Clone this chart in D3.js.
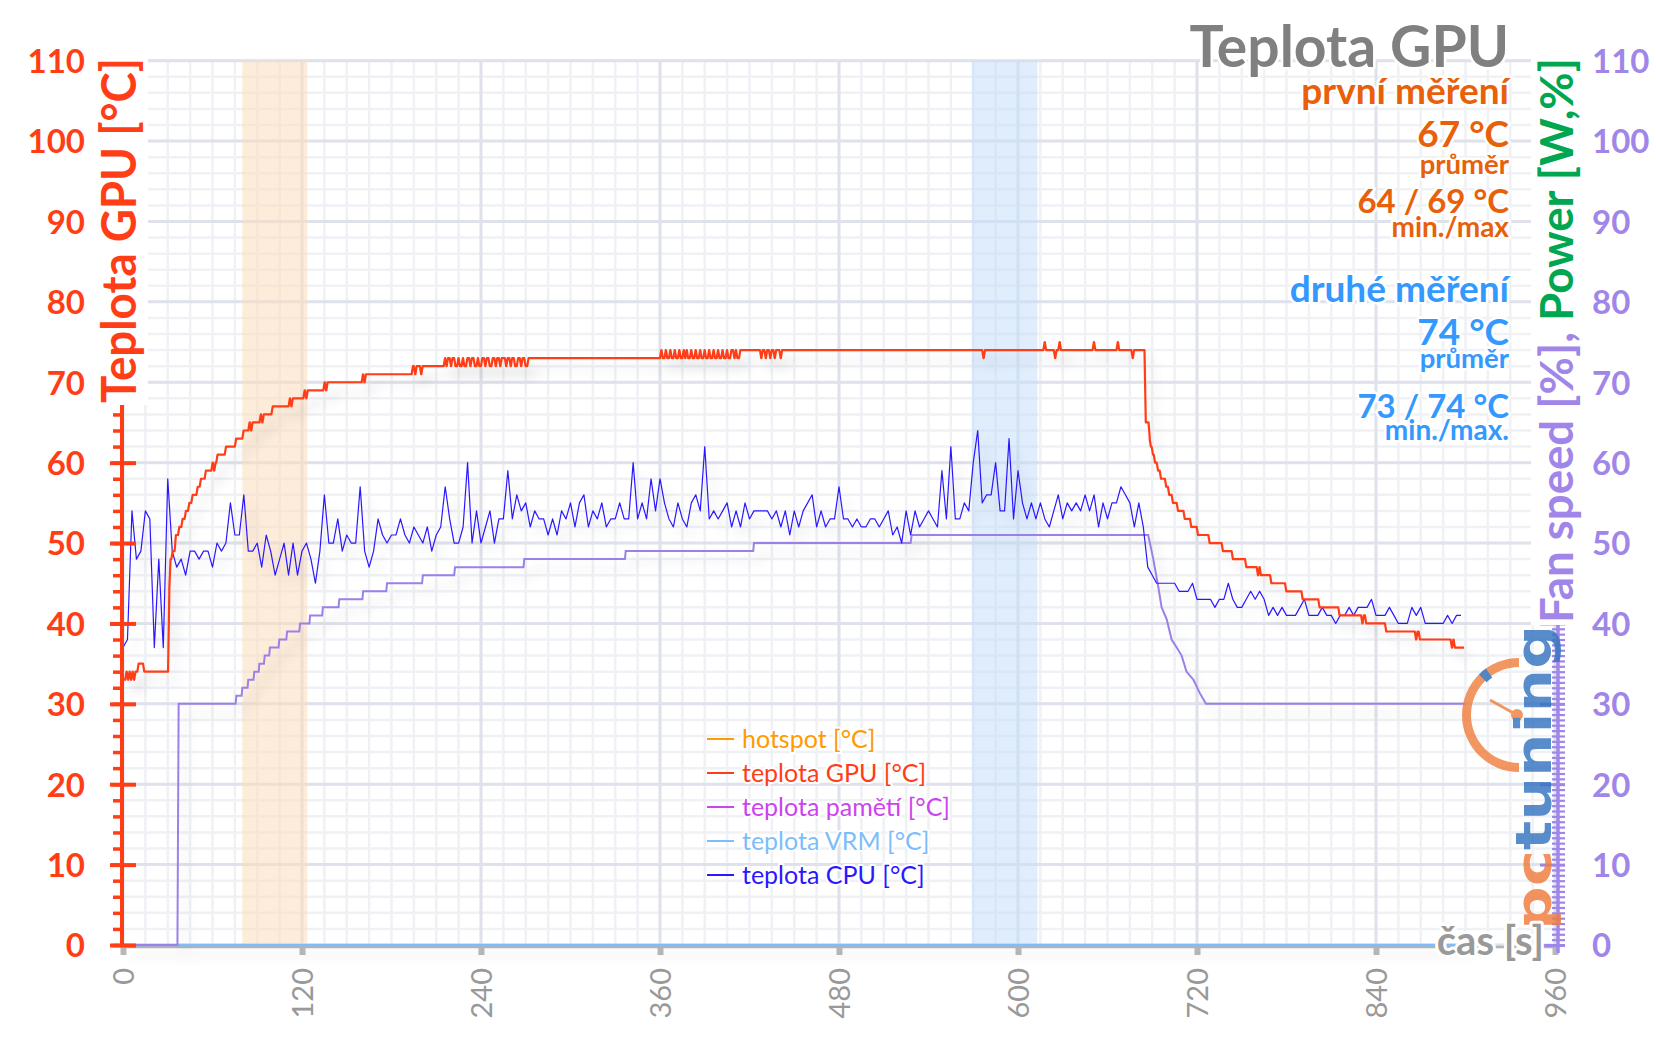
<!DOCTYPE html>
<html><head><meta charset="utf-8">
<script src="https://cdn.jsdelivr.net/npm/d3@7"></script>
<style>
body{margin:0;background:#fff;}
svg{display:block;font-family:Lato,"Open Sans",sans-serif;}
</style></head><body>
<svg id="c" width="1656" height="1043"></svg>
<script>
// ---------- DATA ----------
const xTicks = [0,120,240,360,480,600,720,840,960];
const yTicks = [0,10,20,30,40,50,60,70,80,90,100,110];

// GPU temperature [°C] – step breakpoints [time s, value]
const gpuSteps = [
[0,33],[1.5,34],[2.5,33],[3.5,34],[4.5,33],[5.5,34],[6.5,33],[7.5,34],[9.6,35],[13.4,34],
[30.2,44],[31,48],[32.4,49],[34.6,51],[36.9,52],[39.1,53],[41.3,54],[43.6,55],[45.8,56],[49.2,57],
[51.4,58],[54.7,59],[59.2,60],[60.2,59],[61.2,60],[62.5,61],[68.2,62],[75,63],[80,64],[84,65],
[85,64],[86,65],[91.5,66],[92.5,65],[93.5,66],[99.5,67],[111,68],[112,67],[113,68],[120.9,69],
[122,68],[123,69],[134.3,70],[135.3,69],[136.3,70],[160,71],[161,70],[162,71],[193.5,72],[195,71],
[196,72],[199,71],[200,72],
[215,73],[216,72],[217,73],[219,72],[220,73],[222,72],[224,73],[225,72],[227,73],[228,72],
[230,73],[232,72],[233,73],[235,72],[237,73],[238,72],[240,73],[242,72],[243,73],[245,72],
[247,73],[249,72],[250,73],[252,72],[253,73],[256,72],[257,73],[259,72],[260,73],[262,72],
[264,73],[266,72],[267,73],[269,72],[271,73],
[360,74],[361,73],[363,74],[364,73],[366,74],[367,73],[369,74],[370,73],[372,74],[373,73],
[375,74],[376,73],[377,74],[378,73],[380,74],[381,73],[383,74],[384,73],[386,74],[387,73],
[389,74],[390,73],[392,74],[393,73],[395,74],[396,73],[398,74],[399,73],[401,74],[402,73],
[404,74],[405,73],[407,74],[409,73],[410,74],[411,73],[413,74],[427,73],[428,74],[430,73],
[431,74],[433,73],[434,74],[436,73],[437,74],[440,73],[441,74],
[576,73],[577,74],[617,75],[618,74],[624,73],[625,74],[627,75],[628,74],[650,75],[651,74],
[666,75],[667,74],[676,73],[677,74],
[684.8,65],[687.5,63],[688.2,62],[689.6,61],[691,60],[693,59],[695,58],[698.5,57],[700.5,56],
[703,55],[706.4,54],[710.9,53],[715.3,52],[719.8,51],[727.6,50],[736.5,49],[743.2,48],[752.2,47],
[760,46],[761,47],[762,46],[769,45],[779,44],[790,43],[801.3,42],[814.7,41],[830,40],[831,41],
[832.6,40],[846,39],[866,38],[867,39],[868.6,38],[890,37],[891,38],[892,37],[899,37]
];

// CPU temperature [°C] – one sample every 3 s from t = 0
const cpuInterval = 3;
const cpuValues = [
37,38,54,48,49,54,53,37,48,37, 58,49,47,48,46,49,49,48,49,49,
47,50,49,50,55,51,51,56,49,49, 50,47,51,49,46,48,50,46,50,46,
49,50,48,45,49,56,50,50,53,49, 51,50,50,57,49,47,49,53,51,50,
51,51,53,51,50,52,51,50,52,49, 51,52,57,53,50,50,52,60,50,54,
50,52,54,50,53,53,59,53,56,54, 55,52,54,53,53,51,53,51,54,53,
55,52,55,56,52,54,53,55,52,53, 53,55,53,53,60,53,55,53,58,54,
58,55,53,52,55,53,52,55,56,54, 62,53,54,53,54,55,52,54,52,55,
53,54,54,54,54,53,54,52,54,51, 54,52,54,55,56,52,54,52,53,53,
57,53,53,52,53,52,52,53,53,52, 53,54,51,52,50,54,51,54,52,53,
54,53,52,59,53,62,53,53,55,54, 60,64,55,56,56,60,54,54,63,53,
59,55,53,55,53,55,53,52,54,56, 53,55,54,55,54,56,54,56,52,55,
53,55,55,57,56,55,52,55,52,47, 46,45,45,45,45,45,44,44,44,45,
43,43,43,43,42,43,43,45,43,42, 42,43,44,43,44,43,41,42,41,42,
41,41,41,42,43,41,41,41,42,41, 41,40,41,41,42,41,42,42,42,43,
41,41,41,42,41,40,40,40,42,41, 42,40,40,40,40,40,41,40,41,41
];

// Fan speed [%] – [time s, value]
const fanPoints = [
[0,0],[36.5,0],[37.3,30],[75.5,30],[76,31],[79.5,31],[80,32],[83.5,32],[84,33],[87.5,33],[88,34],
[91,34],[91.4,35],[94.5,35],[95,36],[98,36],[98.5,37],[104.3,37],[104.8,38],[109.5,38],[110,39],
[118.2,39],[118.7,40],[125,40],[125.4,41],[133.5,41],[134,42],[144.5,42],[145,43],[160.5,43],[161,44],
[176.5,44],[177,45],[200.5,45],[201,46],[222,46],[222.6,47],[268.5,47],[269,48],[336.5,48],[337,49],
[422.5,49],[423,50],[528,50],[528.7,51],[687.3,51],[690.7,48],[694,44.6],[696.3,42],[699.7,40.5],
[703,38],[706.4,37],[709.7,36],[713,34],[717.6,33],[722,31.3],[726,30],[900,30]
];

// VRM temperature [°C] (reads 0 over the whole run)
const vrmPoints = [[0,0],[899,0]];

// highlighted intervals [s]
const bands = [[80,123.6,"#fbdcbc"],[569,613,"#c4def9"]];

const legendItems = [
  ["hotspot [°C]","#ff9a00"],
  ["teplota GPU [°C]","#ff3d17"],
  ["teplota pamětí [°C]","#cc44ee"],
  ["teplota VRM [°C]","#7dbdfc"],
  ["teplota CPU [°C]","#2b18ff"]
];

const infoLines = [
  ["první měření","#e8600a",37,104],
  ["67 °C","#e8600a",37,147],
  ["průměr","#e8600a",27.5,174],
  ["64 / 69 °C","#e8600a",33,213],
  ["min./max","#e8600a",28,237],
  ["druhé měření","#3399ff",37,302],
  ["74 °C","#3399ff",37,345],
  ["průměr","#3399ff",27.5,368],
  ["73 / 74 °C","#3399ff",33,418],
  ["min./max.","#3399ff",28,440]
];

// ---------- DRAW ----------
const RED = "#ff3d17", PURPLE = "#9f86e8", GRAY = "#999999";
const svg = d3.select("#c");
const x = d3.scaleLinear().domain([0,960]).range([123,1555]);
const y = d3.scaleLinear().domain([0,110]).range([945,60.7]);

// step curve with short slanted risers (as the logged samples are joined)
function slantStep(context){
  let py, started;
  return {
    areaStart(){}, areaEnd(){},
    lineStart(){ started = false; },
    lineEnd(){},
    point(xp, yp){
      xp = +xp; yp = +yp;
      if(!started){ context.moveTo(xp, yp); started = true; }
      else if(yp !== py){ context.lineTo(xp, py); context.lineTo(xp + 1.3, yp); }
      else context.lineTo(xp, yp);
      py = yp;
    }
  };
}

const defs = svg.append("defs");
const f = defs.append("filter").attr("id","sh").attr("x","-10%").attr("y","-10%").attr("width","130%").attr("height","140%");
f.append("feGaussianBlur").attr("in","SourceAlpha").attr("stdDeviation",6).attr("result","b");
f.append("feOffset").attr("in","b").attr("dx",8).attr("dy",10).attr("result","o");
f.append("feComponentTransfer").attr("in","o").attr("result","t")
  .append("feFuncA").attr("type","linear").attr("slope",0.13);
const fm = f.append("feMerge");
fm.append("feMergeNode").attr("in","t");
fm.append("feMergeNode").attr("in","SourceGraphic");

// grid
const grid = svg.append("g");
grid.selectAll(".vmin").data(d3.range(0,961,15)).join("line")
  .attr("x1",d=>x(d)).attr("x2",d=>x(d)).attr("y1",y(110)).attr("y2",y(0))
  .attr("stroke","#eff1f5").attr("stroke-width",2.5);
grid.selectAll(".hmin").data(d3.range(0,111,2)).join("line")
  .attr("x1",x(0)).attr("x2",x(960)).attr("y1",d=>y(d)).attr("y2",d=>y(d))
  .attr("stroke","#eff1f5").attr("stroke-width",2.5);
grid.selectAll(".vmaj").data(xTicks).join("line")
  .attr("x1",d=>x(d)).attr("x2",d=>x(d)).attr("y1",y(110)).attr("y2",y(0))
  .attr("stroke","#dfe2ea").attr("stroke-width",3);
grid.selectAll(".hmaj").data(yTicks).join("line")
  .attr("x1",x(0)).attr("x2",x(960)).attr("y1",d=>y(d)).attr("y2",d=>y(d))
  .attr("stroke","#dfe2ea").attr("stroke-width",3);

// bands
svg.append("g").selectAll("rect").data(bands).join("rect")
  .attr("x",d=>x(d[0])).attr("width",d=>x(d[1])-x(d[0]))
  .attr("y",y(110)).attr("height",y(0)-y(110))
  .attr("fill",d=>d[2]).attr("opacity",0.55);

// x axis
const gx = svg.append("g").attr("transform",`translate(0,${y(0)})`)
  .call(d3.axisBottom(x).tickValues(xTicks).tickSize(10).tickFormat(d3.format("d")));
gx.select(".domain").remove();
gx.selectAll(".tick line").attr("y1",2).attr("y2",10).attr("stroke","#b8b8b8").attr("stroke-width",6);
gx.selectAll(".tick text").attr("transform","rotate(-90)").attr("text-anchor","end")
  .attr("x",-23).attr("y",0).attr("dy","0.36em")
  .attr("fill",GRAY).attr("font-size",29).attr("font-family","Lato");
svg.append("line").attr("x1",x(0)).attr("x2",x(960)).attr("y1",y(0)+2).attr("y2",y(0)+2)
  .attr("stroke","#b3b3b3").attr("stroke-width",2.5);

// lines
const lineG = svg.append("g").attr("filter","url(#sh)");
const stepLine = d3.line().x(d=>x(d[0])).y(d=>y(d[1])).curve(slantStep);
const lin = d3.line().x(d=>x(d[0])).y(d=>y(d[1]));
lineG.append("path").datum(vrmPoints).attr("d",lin).attr("fill","none").attr("stroke","#7dbdfc").attr("stroke-width",2.5);
lineG.append("path").datum(fanPoints).attr("d",lin).attr("fill","none").attr("stroke","#9b80e8").attr("stroke-width",2);
lineG.append("path").datum(cpuValues.map((v,i)=>[i*cpuInterval,v])).attr("d",lin)
  .attr("fill","none").attr("stroke","#2b18ff").attr("stroke-width",1.2).attr("stroke-linejoin","round");
lineG.append("path").datum(gpuSteps).attr("d",stepLine).attr("fill","none").attr("stroke",RED)
  .attr("stroke-width",2.2).attr("stroke-linejoin","round");

// left axis
const gLm = svg.append("g").attr("transform",`translate(${x(0)-1},0)`)
  .call(d3.axisLeft(y).tickValues(d3.range(0,111,2)).tickSize(9).tickFormat(""));
gLm.select(".domain").remove();
gLm.selectAll(".tick line").attr("stroke",RED).attr("stroke-width",3.5);
const gL = svg.append("g").attr("transform",`translate(${x(0)-1},0)`)
  .call(d3.axisLeft(y).tickValues(yTicks).tickSize(12));
gL.select(".domain").remove();
gL.selectAll(".tick line").attr("x1",14).attr("x2",-12).attr("stroke",RED).attr("stroke-width",4);
gL.selectAll(".tick text").attr("x",-37).attr("dy","0.36em").attr("fill",RED)
  .attr("font-size",33).attr("font-weight","bold").attr("font-family","Lato");
svg.append("line").attr("x1",x(0)-1).attr("x2",x(0)-1).attr("y1",y(110)-4).attr("y2",y(0)+2)
  .attr("stroke",RED).attr("stroke-width",4);

// right axis
const RX = 1558;
const gRm = svg.append("g").attr("transform",`translate(${RX},0)`)
  .call(d3.axisRight(y).tickValues(d3.range(0,110.01,2/3)).tickSize(7).tickFormat(""));
gRm.select(".domain").remove();
gRm.selectAll(".tick line").attr("x1",-6).attr("stroke",PURPLE).attr("stroke-width",2.2);
const gR = svg.append("g").attr("transform",`translate(${RX},0)`)
  .call(d3.axisRight(y).tickValues(yTicks).tickSize(7));
gR.select(".domain").remove();
gR.selectAll(".tick line").attr("x1",-18).attr("stroke",PURPLE).attr("stroke-width",3);
gR.selectAll(".tick text").attr("x",34).attr("dy","0.36em").attr("fill",PURPLE)
  .attr("font-size",33).attr("font-weight","bold").attr("font-family","Lato");
svg.append("line").attr("x1",RX).attr("x2",RX).attr("y1",y(110)-4).attr("y2",y(0)+8)
  .attr("stroke",PURPLE).attr("stroke-width",3.5);

// helper for haloed text
function halo(s,w){return s.attr("stroke","#fff").attr("stroke-width",w).attr("stroke-linejoin","round").attr("paint-order","stroke");}

// axis titles on white backing (they cover the axis lines as in the original)
function backedLabel(tf){
  const g = svg.append("g").attr("transform",tf);
  const bg = g.append("rect").attr("fill","#fff");
  const t = g.append("text").attr("font-weight","bold");
  return {g,bg,t};
}
const L = backedLabel("translate(136,403) rotate(-90)");
L.t.attr("font-size",48).attr("fill",RED).attr("textLength",345).attr("lengthAdjust","spacingAndGlyphs")
  .text("Teplota GPU [°C]");
const R = backedLabel("translate(1573,623) rotate(-90)");
R.t.attr("font-size",46).attr("textLength",565).attr("lengthAdjust","spacingAndGlyphs");
R.t.append("tspan").attr("fill",PURPLE).text("Fan speed [%], ");
R.t.append("tspan").attr("fill","#00a650").text("Power [W,%]");
[L,R].forEach(o=>{
  const b = o.t.node().getBBox();
  o.bg.attr("x",b.x-2).attr("y",b.y+3).attr("width",b.width+4).attr("height",b.height-1);
});

// logo
const logo = svg.append("g").attr("opacity",0.82);
logo.append("path").attr("transform","translate(1519,715)")
  .attr("d",d3.arc()({innerRadius:48,outerRadius:57,startAngle:-Math.PI,endAngle:0}))
  .attr("fill","#f08040");
logo.append("path").attr("transform","translate(1519,715)")
  .attr("d",d3.arc()({innerRadius:46,outerRadius:57,startAngle:-0.78,endAngle:-0.62}))
  .attr("fill","#2a6ebb");
logo.append("line").attr("x1",1517).attr("y1",715).attr("x2",1490).attr("y2",700)
  .attr("stroke","#f08040").attr("stroke-width",3);
logo.append("circle").attr("cx",1517).attr("cy",715).attr("r",6).attr("fill","#f08040");
const lt = logo.append("text").attr("transform","translate(1551,930) rotate(-90)")
  .attr("font-family","DejaVu Sans").attr("font-weight","bold").attr("font-size",50)
  .attr("textLength",305).attr("lengthAdjust","spacingAndGlyphs");
lt.append("tspan").attr("fill","#f07c3c").text("pc");
lt.append("tspan").attr("fill","#3474c0").text("tuning");

halo(svg.append("text").attr("x",1544).attr("y",955).attr("text-anchor","end")
  .attr("font-size",40).attr("font-weight","bold").attr("fill",GRAY).text("čas [s]"),6);

// title + info block
halo(svg.append("text").attr("x",1509).attr("y",67).attr("text-anchor","end")
  .attr("font-size",57).attr("font-weight","bold").attr("fill","#808080").text("Teplota GPU"),5);
svg.append("g").selectAll("text").data(infoLines).join("text")
  .attr("x",1509).attr("y",d=>d[3]).attr("text-anchor","end")
  .attr("font-size",d=>d[2]).attr("font-weight","bold").attr("fill",d=>d[1]).text(d=>d[0])
  .call(s=>halo(s,5));

// legend
const lg = svg.append("g").attr("transform","translate(707,739)");
const li = lg.selectAll("g").data(legendItems).join("g").attr("transform",(d,i)=>`translate(0,${i*34})`);
li.append("line").attr("x1",0).attr("x2",27).attr("stroke",d=>d[1]).attr("stroke-width",2);
li.append("text").attr("x",35).attr("dy","0.35em").attr("font-size",25).attr("fill",d=>d[1]).text(d=>d[0])
  .call(s=>halo(s,4));
</script>
</body></html>
